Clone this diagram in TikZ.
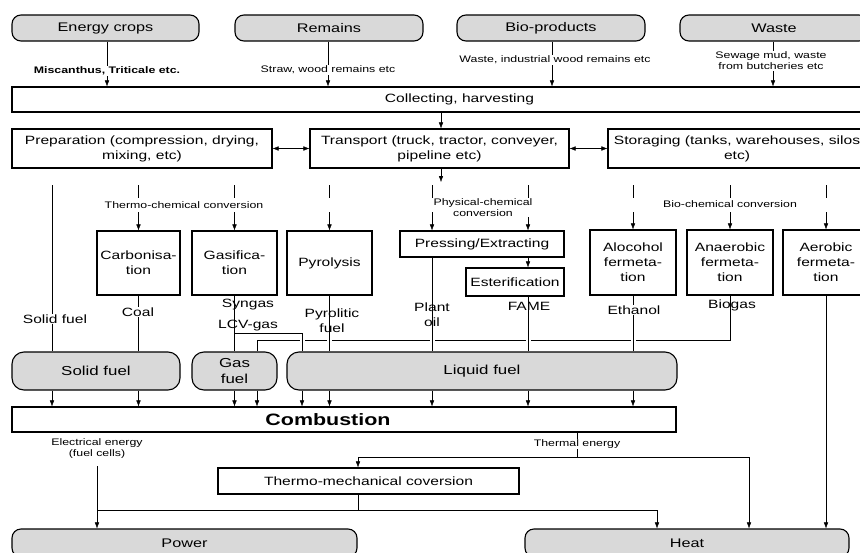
\documentclass[tikz,border=0pt]{standalone}
\usepackage{fontspec}
\setmainfont{Liberation Sans}[FakeStretch=1.3]
\usetikzlibrary{arrows.meta}
\definecolor{boxgray}{RGB}{217,217,217}
\pgfdeclarelayer{bg}
\pgfsetlayers{bg,main}
\begin{document}
\begin{tikzpicture}[x=1pt,y=-1pt, line width=1.1pt,
  arr/.style={-{Latex[length=6pt,width=4.5pt]}},
  dbl/.style={{Latex[length=6pt,width=4.5pt]}-{Latex[length=6pt,width=4.5pt]}},
  gbox/.style={draw, fill=boxgray, rounded corners=9pt, inner sep=2pt, align=center, font=\fontsize{12.5}{15}\selectfont},
  fbox/.style={gbox, rounded corners=12pt, minimum height=38pt, font=\fontsize{13}{16}\selectfont},
  wbox/.style={draw, fill=white, align=center, inner sep=2pt, font=\fontsize{12}{15}\selectfont},
  small/.style={font=\fontsize{9.5}{11}\selectfont, align=center, inner sep=1pt},
  mid/.style={font=\fontsize{12}{15}\selectfont, align=center, inner sep=1pt},
  wf/.style={fill=white},
  halo/.style={preaction={draw=white, line width=5pt}},
  convd/.style={dash pattern=on 13pt off 14pt on 40pt},
]
\useasboundingbox (0,0) rectangle (860,552);
\clip (0,0) rectangle (860,552);

% ---- boxes
\node[gbox, minimum width=187pt, minimum height=26pt] (ec) at (105.5,28) {Energy crops};
\node[gbox, minimum width=188pt, minimum height=26pt] (rem) at (329,28) {Remains};
\node[gbox, minimum width=188pt, minimum height=26pt] (bio) at (551,28) {Bio-products};
\node[gbox, minimum width=188pt, minimum height=26pt] (waste) at (774,28) {Waste};
\node[wbox, minimum width=895pt, minimum height=25pt] (col) at (459.5,99.5) {Collecting, harvesting};
\node[wbox, minimum width=260pt, minimum height=39pt] (prep) at (142,148.5) {Preparation (compression, drying,\\mixing, etc)};
\node[wbox, minimum width=259pt, minimum height=39pt] (trans) at (439.5,148.5) {Transport (truck, tractor, conveyer,\\pipeline etc)};
\node[wbox, minimum width=258pt, minimum height=39pt] (stor) at (737,148.5) {Storaging (tanks, warehouses, silos\\etc)};
\node[wbox, minimum width=83pt, minimum height=64pt] (carb) at (138.5,263) {Carbonisa-\\tion};
\node[wbox, minimum width=85pt, minimum height=64pt] (gasi) at (234.5,263) {Gasifica-\\tion};
\node[wbox, minimum width=85pt, minimum height=64pt] (pyro) at (329.5,263) {Pyrolysis};
\node[wbox, minimum width=164pt, minimum height=26pt] (press) at (482,244) {Pressing/Extracting};
\node[wbox, minimum width=98pt, minimum height=28pt] (ester) at (515,282) {Esterification};
\node[wbox, minimum width=86pt, minimum height=65pt] (alc) at (633,262.5) {Alocohol\\fermeta-\\tion};
\node[wbox, minimum width=86pt, minimum height=65pt] (anae) at (730,262.5) {Anaerobic\\fermeta-\\tion};
\node[wbox, minimum width=86pt, minimum height=65pt] (aero) at (826,262.5) {Aerobic\\fermeta-\\tion};
\node[fbox, minimum width=168pt] (solid) at (96,371) {Solid fuel};
\node[fbox, minimum width=85pt] (gas) at (234.5,371) {Gas\\fuel};
\node[fbox, minimum width=390pt] (liq) at (482,371) {Liquid fuel};
\node[wbox, minimum width=664pt, minimum height=25pt] (comb) at (344,419.5) {};
\node[font=\bfseries\fontsize{16.5}{18}\selectfont, inner sep=1pt] (combt) at (328,420) {Combustion};
\node[wbox, minimum width=301pt, minimum height=26pt] (tmc) at (368.5,481) {Thermo-mechanical coversion};
\node[gbox, minimum width=345pt, minimum height=28pt] (power) at (184.5,543) {Power};
\node[gbox, minimum width=324pt, minimum height=28pt] (heat) at (687,543) {Heat};

% ---- named coordinates
\coordinate (xa) at (107,0);
\coordinate (xb) at (328,0);
\coordinate (xc) at (552,0);
\coordinate (xd) at (773,0);
\coordinate (xt) at (441,0);
\coordinate (tdown) at (441,182);
\coordinate (tsf) at (52,185);
\coordinate (tco) at (138.5,185);
\coordinate (tga) at (234.5,185);
\coordinate (tpy) at (329.5,185);
\coordinate (tpl) at (432,185);
\coordinate (tfa) at (528,185);
\coordinate (tet) at (633,185);
\coordinate (tbi) at (730,185);
\coordinate (tae) at (826,185);
\coordinate (xgb) at (257,0);
\coordinate (xpa) at (302,0);
\coordinate (y333) at (0,333);
\coordinate (y340) at (0,340);
\coordinate (elt) at (97,466);
\coordinate (te) at (577,457);
\coordinate (j1) at (358,510);
\coordinate (xh1) at (657,0);
\coordinate (xh2) at (749,0);

% ---- connectors
\begin{pgfonlayer}{bg}
\fill[white] (0,0) rectangle (860,552);
\foreach \c in {xa,xb,xc,xd}{
  \draw[arr] (ec.south -| \c) -- (col.north -| \c);
}
\draw[arr] (col.south -| xt) -- (trans.north -| xt);
\draw[arr] (trans.south -| xt) -- (tdown);
\draw[dbl] (prep.east) -- (trans.west);
\draw[dbl] (trans.east) -- (stor.west);

\draw (tsf) -- (solid.north -| tsf);
\draw[arr,convd] (tco) -- (carb.north -| tco);
\draw[arr,convd] (tga) -- (gasi.north -| tga);
\draw[arr,convd] (tpy) -- (pyro.north -| tpy);
\draw[arr,convd] (tpl) -- (press.north -| tpl);
\draw[arr,convd] (tfa) -- (press.north -| tfa);
\draw[arr,convd] (tet) -- (alc.north -| tet);
\draw[arr,convd] (tbi) -- (anae.north -| tbi);
\draw[arr,convd] (tae) -- (aero.north -| tae);
\draw[arr] (press.south -| tfa) -- (ester.north -| tfa);

\draw (carb.south) -- (solid.north -| carb.south);
\draw (anae.south) -- (anae.south |- y340) -| (gas.north -| xgb);
\draw[halo] (gasi.south |- y333) -| (liq.north -| xpa);
\draw (gasi.south) -- (gas.north);
\draw[halo] (pyro.south) -- (liq.north -| pyro.south);
\draw[halo] (press.south -| tpl) -- (liq.north -| tpl);
\draw[halo] (ester.south -| tfa) -- (liq.north -| tfa);
\draw[halo] (alc.south) -- (liq.north -| alc.south);
\draw[arr] (aero.south) -- (heat.north -| aero.south);

\foreach \c in {tsf,tco}{
  \draw[arr] (solid.south -| \c) -- (comb.north -| \c);
}
\foreach \c in {tga,xgb}{
  \draw[arr] (gas.south -| \c) -- (comb.north -| \c);
}
\foreach \c in {xpa,tpy,tpl,tfa,tet}{
  \draw[arr] (liq.south -| \c) -- (comb.north -| \c);
}

\draw[arr] (elt) -- (power.north -| elt);
\draw (comb.south -| te) -- (te);
\draw[arr] (te) -| (tmc.north -| j1);
\draw[arr] (te) -| (heat.north -| xh2);
\draw (tmc.south -| j1) -- (j1);
\draw[arr] (elt |- j1) -- (xh1 |- j1) -- (heat.north -| xh1);
\end{pgfonlayer}

% ---- labels
\node[small, wf, font=\bfseries\fontsize{9.5}{11}\selectfont] (lm) at (107,71) {Miscanthus, Triticale etc.};
\node[small, wf] (ls) at (328,70) {Straw, wood remains etc};
\node[small, wf] (lw) at (555,60) {Waste, industrial wood remains etc};
\node[small, wf] (lsw) at (771,61) {Sewage mud, waste\\from butcheries etc};
\node[small, wf] (ltc) at (184,205) {Thermo-chemical conversion};
\node[small, wf] (lpc) at (483,207.5) {Physical-chemical\\conversion};
\node[small, wf] (lbc) at (730,204) {Bio-chemical conversion};
\node[mid, wf] (lsf) at (55,319) {Solid fuel};
\node[mid, wf] (lco) at (138,312) {Coal};
\node[mid] (lsy) at (248,305) {Syngas};
\node[mid] (llcv) at (248,326) {LCV-gas};
\node[mid] (lpy) at (332,320.5) {Pyrolitic\\fuel};
\node[mid] (lpl) at (432,315) {Plant\\oil};
\node[mid] (lfa) at (529,306) {FAME};
\node[mid, wf] (let) at (634,310) {Ethanol};
\node[mid] (lbg) at (732,305) {Biogas};
\node[small] (lel) at (97,448.5) {Electrical energy\\(fuel cells)};
\node[small, wf] (lth) at (577,444) {Thermal energy};
\end{tikzpicture}
\end{document}
